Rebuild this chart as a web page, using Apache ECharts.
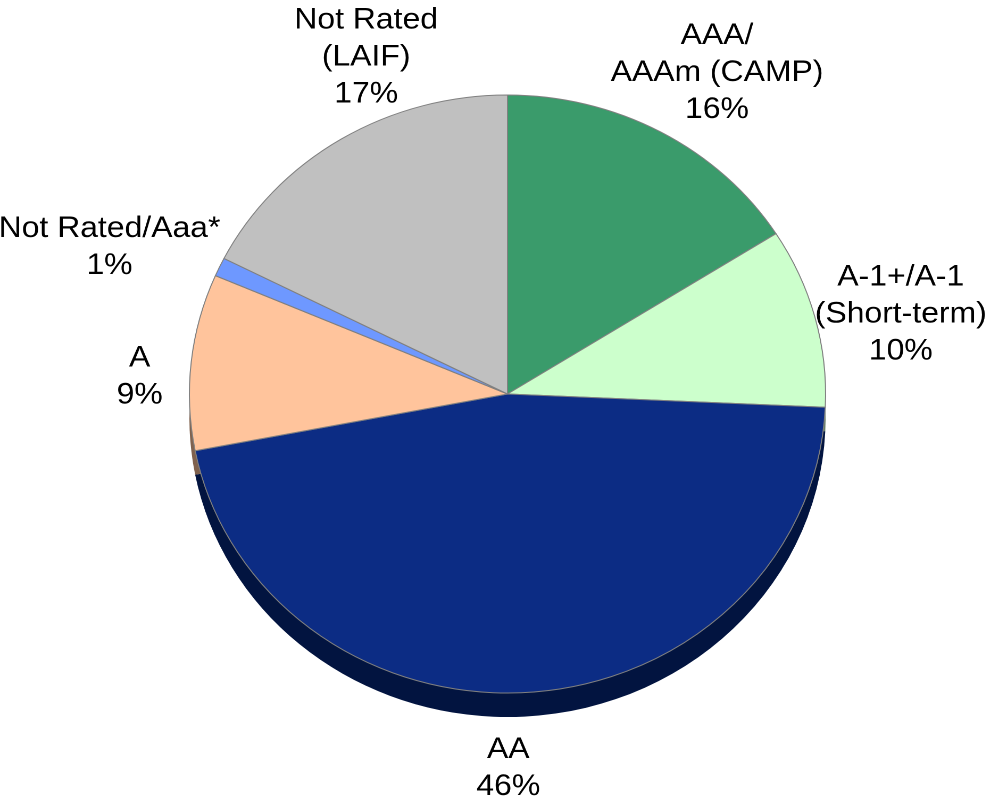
<!DOCTYPE html>
<html>
<head>
<meta charset="utf-8">
<title>Credit quality</title>
<script src="https://cdn.jsdelivr.net/npm/echarts@6/dist/echarts.min.js"></script>
<style>
  html, body { margin: 0; padding: 0; background: #fff; overflow: hidden; }
  /* the original picture is stretched a bit sideways, so is this one */
  #main { width: 939px; height: 801px; transform: scaleX(1.0639); transform-origin: 0 0; }
</style>
</head>
<body>
<div id="main"></div>
<script>
var categories = ['AAA/\nAAAm (CAMP)', 'A-1+/A-1\n(Short-term)', 'AA', 'A', 'Not Rated/Aaa*', 'Not Rated\n(LAIF)'];
var shares = [15.8, 9.6, 45.7, 9.4, 1.0, 17.3];

var topColors = ['#3a9b6b', '#ccffcc', '#0c2c84', '#ffc49c', '#6e98ff', '#c0c0c0'];
var sideColors = ['#1d4e36', '#667f66', '#021440', '#80624e', '#374c80', '#606060'];
// small hand nudges so labels sit where Excel put them
var labelNudge = [[0, -2], [-7, 14], [-24, 29], [-17, 20], [0, 0], [64, -26]];

var cx = 477, cy = 394, r = 299, depth = 24, gap = 10;
var total = shares.reduce(function (a, b) { return a + b; }, 0);

function midAngle(i) {
  var before = 0;
  for (var k = 0; k < i; k++) before += shares[k];
  return (before + shares[i] / 2) / total * 2 * Math.PI;
}

var chart = echarts.init(document.getElementById('main'), null, { devicePixelRatio: 2 });

var option = {
  animation: false,
  series: [
    {
      // side of the 3D disc
      type: 'pie',
      z: 1,
      silent: true,
      center: [cx, cy + depth],
      radius: r,
      startAngle: 90,
      label: { show: false },
      labelLine: { show: false },
      itemStyle: { borderWidth: 0 },
      data: categories.map(function (name, i) {
        return { name: name, value: shares[i], itemStyle: { color: sideColors[i] } };
      })
    },
    {
      type: 'pie',
      z: 2,
      center: [cx, cy],
      radius: r,
      startAngle: 90,
      avoidLabelOverlap: false,
      emphasis: { disabled: true },
      itemStyle: { borderColor: '#808080', borderWidth: 1 },
      label: {
        show: true,
        position: 'outside',
        color: '#000',
        fontFamily: 'Liberation Sans, Arial, sans-serif',
        fontSize: 30,
        lineHeight: 37,
        formatter: function (p) {
          return p.name + '\n' + Math.round(p.value) + '%';
        }
      },
      labelLine: { show: false },
      labelLayout: function (p) {
        var a = midAngle(p.dataIndex);
        var s = Math.sin(a), c = Math.cos(a);
        var w = p.labelRect.width, h = p.labelRect.height;
        var n = labelNudge[p.dataIndex];
        return {
          x: cx + (r + gap) * s + s * w / 2 + n[0],
          y: cy - (r + gap) * c - c * h / 2 + n[1],
          align: 'center',
          verticalAlign: 'middle'
        };
      },
      data: categories.map(function (name, i) {
        return { name: name, value: shares[i], itemStyle: { color: topColors[i] } };
      })
    }
  ]
};

chart.setOption(option);
</script>
</body>
</html>
